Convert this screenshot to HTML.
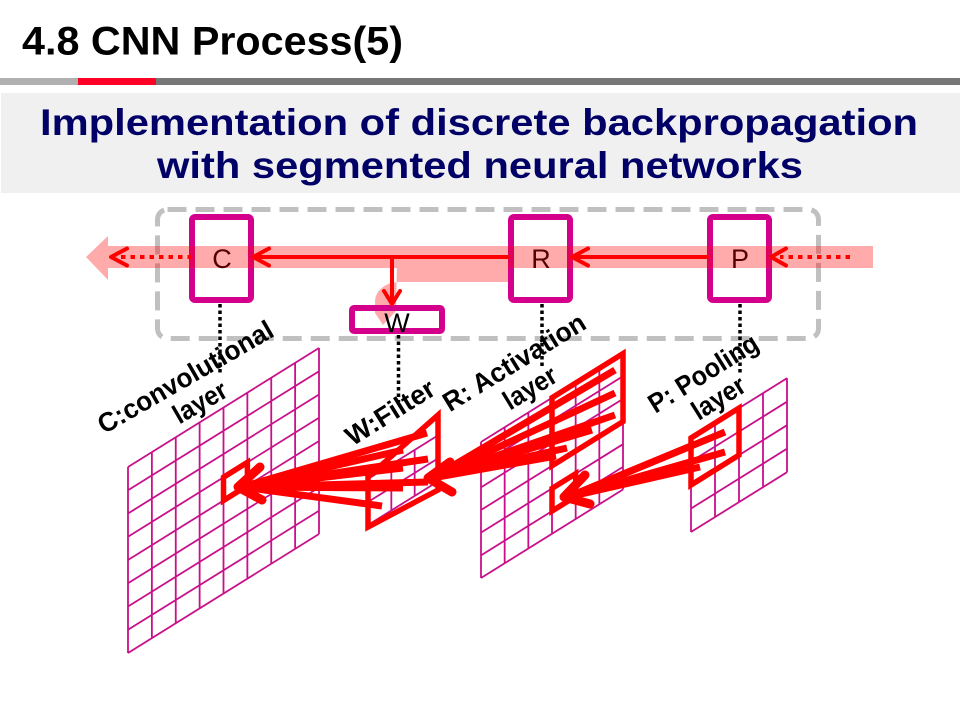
<!DOCTYPE html>
<html><head><meta charset="utf-8"><style>html,body{margin:0;padding:0;background:#fff}svg{display:block}</style></head>
<body>
<svg width="960" height="720" viewBox="0 0 960 720" xmlns="http://www.w3.org/2000/svg" font-family="Liberation Sans, sans-serif">
<rect width="960" height="720" fill="#fff"/>
<!-- Title -->
<text x="22" y="54.5" font-size="40" font-weight="bold" fill="#000" textLength="381" lengthAdjust="spacingAndGlyphs">4.8 CNN Process(5)</text>
<rect x="0" y="78" width="78" height="7" fill="#b0b0b0"/>
<rect x="78" y="78" width="78" height="7" fill="#ff0026"/>
<rect x="156" y="78" width="804" height="7" fill="#777"/>
<rect x="1" y="93" width="959" height="100" fill="#f0f0f0"/>
<text x="40" y="135" font-size="37" font-weight="bold" fill="#000066" textLength="878" lengthAdjust="spacingAndGlyphs">Implementation of discrete backpropagation</text>
<text x="157" y="178" font-size="37" font-weight="bold" fill="#000066" textLength="646" lengthAdjust="spacingAndGlyphs">with segmented neural networks</text>

<!-- dashed container -->
<rect x="157.5" y="209.5" width="661" height="129" rx="10" fill="none" stroke="#c0c0c0" stroke-width="5" stroke-dasharray="19 9"/>

<!-- boxes C R P -->
<g fill="#fff" stroke="#d4008c" stroke-width="6">
<rect x="192" y="217" width="59" height="83" rx="3"/>
<rect x="511" y="217" width="59" height="83" rx="3"/>
<rect x="710" y="217" width="59" height="83" rx="3"/>
</g>
<g font-size="27" fill="#000" text-anchor="middle">
<text x="222" y="268">C</text>
<text x="541" y="268">R</text>
<text x="740" y="268">P</text>
</g>

<!-- pink translucent band -->
<g opacity="0.33" fill="#ff0000">
<path d="M108 246 H873 V268 H108 Z M108 236 L86 257 L108 280 Z M508 262 L508 282 L400 282 C386 282 375 290 375 302 L375 313 L383 325 L396 311 L397 262 Z"/>
</g>

<!-- W box -->
<rect x="352" y="308" width="90" height="23" rx="2" fill="none" stroke="#d4008c" stroke-width="6"/>
<text x="397" y="332" font-size="27" fill="#000" text-anchor="middle">W</text>

<!-- red arrows on band -->
<g stroke="#ff0000" stroke-width="4" fill="none" stroke-linecap="round" stroke-linejoin="round">
<line x1="707" y1="257" x2="575" y2="257"/>
<polyline points="588,248.5 572,257 588,265.5"/>
<line x1="508" y1="257" x2="256" y2="257"/>
<polyline points="269,248.5 253,257 269,265.5"/>
<line x1="392" y1="257" x2="392" y2="302"/>
<polyline points="384,291 392,304 400,291"/>
<polyline points="786,248.5 771,257 786,265.5"/>
<polyline points="127,248.5 111,257 127,265.5"/>
</g>
<g stroke="#ff0000" stroke-width="4" fill="none" stroke-dasharray="4.5 5">
<line x1="850" y1="257" x2="780" y2="257"/>
<line x1="192" y1="257" x2="118" y2="257"/>
</g>

<!-- black dotted connectors -->
<g stroke="#000" stroke-width="3.5" stroke-dasharray="3.5 3">
<line x1="220" y1="304" x2="220" y2="375"/>
<line x1="398.5" y1="335" x2="398.5" y2="402"/>
<line x1="542" y1="304" x2="542" y2="368"/>
<line x1="740" y1="304" x2="740" y2="373"/>
</g>

<!-- grids -->
<g stroke="#c8108a" stroke-width="1.8" fill="none">
<g transform="matrix(1,-0.623,0,1,128,467)">
<path vector-effect="non-scaling-stroke" d="M0 0V186M23.875 0V186M47.75 0V186M71.625 0V186M95.5 0V186M119.375 0V186M143.25 0V186M167.125 0V186M191 0V186M0 0H191M0 23.25H191M0 46.5H191M0 69.75H191M0 93H191M0 116.25H191M0 139.5H191M0 162.75H191M0 186H191"/>
</g>
<g transform="matrix(1,-0.623,0,1,481,442)">
<path vector-effect="non-scaling-stroke" d="M0 0V136M23.667 0V136M47.333 0V136M71 0V136M94.667 0V136M118.333 0V136M142 0V136M0 0H142M0 22.667H142M0 45.333H142M0 68H142M0 90.667H142M0 113.333H142M0 136H142"/>
</g>
<g transform="matrix(1,-0.623,0,1,691,438)">
<path vector-effect="non-scaling-stroke" d="M0 0V94M24 0V94M48 0V94M72 0V94M96 0V94M0 0H96M0 23.5H96M0 47H96M0 70.5H96M0 94H96"/>
</g>
<g transform="matrix(1,-0.623,0,1,368,479)">
<path vector-effect="non-scaling-stroke" d="M0 0V46M23.33 0V46M46.67 0V46M70 0V46M0 0H70M0 23H70M0 46H70"/>
</g>
</g>

<!-- red boxes on grids -->
<g stroke="#ff0000" stroke-width="5.5" fill="none">
<g transform="matrix(1,-0.623,0,1,128,467)"><rect vector-effect="non-scaling-stroke" x="95.5" y="69.75" width="23.875" height="23.25"/></g>
<g transform="matrix(1,-0.623,0,1,481,442)">
<rect vector-effect="non-scaling-stroke" x="71" y="0" width="71" height="68"/>
<rect vector-effect="non-scaling-stroke" x="71" y="90.667" width="23.667" height="22.667"/>
</g>
<g transform="matrix(1,-0.623,0,1,691,438)"><rect vector-effect="non-scaling-stroke" x="0" y="0" width="48" height="47"/></g>
<polygon points="368,477 438,415 438,490 368,527"/>
</g>

<!-- red fans -->
<g stroke="#ff0000" stroke-width="7" fill="none" stroke-linecap="butt">
<line x1="427" y1="433" x2="242" y2="487"/>
<line x1="403" y1="450" x2="242" y2="487"/>
<line x1="428" y1="459" x2="242" y2="487"/>
<line x1="403" y1="468" x2="242" y2="487"/>
<line x1="428" y1="482" x2="242" y2="487"/>
<line x1="403" y1="488" x2="242" y2="487"/>
<line x1="382" y1="506" x2="242" y2="487"/>

<line x1="615" y1="370" x2="432" y2="478"/>
<line x1="615" y1="393" x2="432" y2="478"/>
<line x1="615" y1="415" x2="432" y2="478"/>
<line x1="592" y1="430" x2="432" y2="478"/>
<line x1="567" y1="448" x2="432" y2="478"/>
<line x1="556" y1="456" x2="432" y2="478"/>

<line x1="725" y1="432" x2="568" y2="497"/>
<line x1="725" y1="452" x2="568" y2="497"/>
<line x1="700" y1="467" x2="568" y2="497"/>
<line x1="691" y1="446" x2="568" y2="497"/>
</g>
<g stroke="#ff0000" stroke-width="9" fill="none" stroke-linecap="round" stroke-linejoin="round">
<polyline points="260,467 238,487 262,500"/>
<polyline points="450,462 428,478 452,492"/>
<polyline points="585,475 564,497 590,504"/>
</g>

<!-- labels -->
<g font-size="27" font-weight="bold" fill="#000">
<g transform="translate(190,385) rotate(-30)">
<text x="-99" y="0" textLength="198" lengthAdjust="spacingAndGlyphs">C:convolutional</text>
<text x="-29" y="29" textLength="58" lengthAdjust="spacingAndGlyphs">layer</text>
</g>
<g transform="translate(395,420) rotate(-32)">
<text x="-50" y="0" textLength="100" lengthAdjust="spacingAndGlyphs">W:Filter</text>
</g>
<g transform="translate(519,370) rotate(-31.5)">
<text x="-81" y="0" textLength="162" lengthAdjust="spacingAndGlyphs">R: Activation</text>
<text x="-29" y="30" textLength="58" lengthAdjust="spacingAndGlyphs">layer</text>
</g>
<g transform="translate(708,381) rotate(-32)">
<text x="-62" y="0" textLength="124" lengthAdjust="spacingAndGlyphs">P: Pooling</text>
<text x="-29" y="29" textLength="58" lengthAdjust="spacingAndGlyphs">layer</text>
</g>
</g>
</svg>
</body></html>
